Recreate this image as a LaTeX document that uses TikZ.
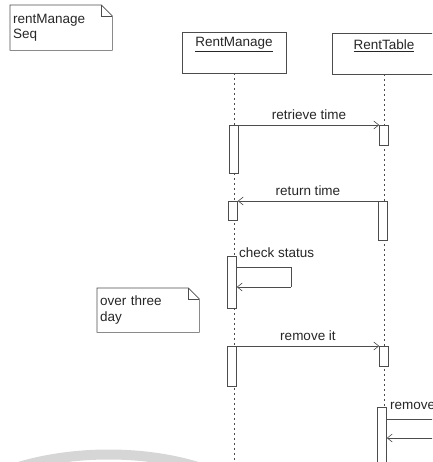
\documentclass[tikz,border=0pt]{standalone}
\usepackage{fontspec}
\setmainfont{Liberation Sans}
\usetikzlibrary{arrows.meta,calc}
\begin{document}
\begin{tikzpicture}[x=1pt,y=-1pt,
 ln/.style={draw=black!70, line width=0.6pt},
 head/.style={ln, fill=white, minimum width=104pt, minimum height=41pt, inner sep=0pt},
 act/.style={ln, fill=white, minimum width=9pt, inner sep=0pt, anchor=north},
 life/.style={draw=black!70, line width=0.7pt, dash pattern=on 2pt off 3pt},
 msg/.style={draw=black!70, line width=0.6pt, -{Straight Barb[length=5pt,width=8pt]}},
 lbl/.style={font=\fontsize{13.5}{15.5}\selectfont, text=black!85, inner sep=1pt},
 notebox/.style={lbl, anchor=north west, align=left, inner xsep=2pt, inner ysep=0pt},
]
\useasboundingbox (0,0) rectangle (432,462);
\clip (0,0) rectangle (432,462);

% faint grey band at the bottom
\draw[line width=10pt, black!16] (-20,482) .. controls (50,447) and (150,447) .. (215,473);

% note 1
\node[notebox, minimum width=102pt, minimum height=45pt, text width=96pt] (seqnote) at (10,5) {rentManage\\Seq};
\draw[ln] (seqnote.north west) -- ($(seqnote.north east)+(-11,0)$) -- ($(seqnote.north east)+(0,11)$) -- (seqnote.south east) -- (seqnote.south west) -- cycle;
\draw[ln] ($(seqnote.north east)+(-11,0)$) -- ($(seqnote.north east)+(-11,11)$) -- ($(seqnote.north east)+(0,11)$);

% lifeline heads
\node[head] (rmhead) at (234,52.5) {};
\node[lbl] (rmname) at ($(rmhead.north)+(0,13)$) {\underline{RentManage}};
\node[head] (rthead) at (384,53.5) {};
\node[lbl] (rtname) at ($(rthead.north)+(0,13)$) {\underline{RentTable}};

% lifelines
\coordinate (rmend) at (234,470);
\coordinate (rtend) at (384,470);
\draw[life] (rmhead.south) -- (rmend);
\draw[life] (rthead.south) -- (rtend);

% activations
\node[act, minimum height=48pt] (rm1) at (234,125) {};
\node[act, minimum height=20pt] (rt1) at (384,125) {};
\node[act, minimum height=39pt] (rt2) at (383,201) {};
\node[act, minimum height=19pt] (rm2) at (233,201) {};
\node[act, minimum height=52pt] (rm3) at (232,256) {};
\node[act, minimum height=40pt] (rm4) at (232,346) {};
\node[act, minimum height=20pt] (rt3) at (384,346) {};
\node[act, minimum height=60pt] (rt4) at (382,407) {};

% messages
\draw[msg] (rm1.north east) -- (rt1.north west) node[lbl, midway, above=4pt] (lretrieve) {retrieve time};
\draw[msg] (rt2.north west) -- (rm2.north east) node[lbl, midway, above=4pt] (lreturn) {return time};

\node[lbl, anchor=west] (lcheck) at ($(rm3.north east)+(1,-3)$) {check status};
\coordinate (lpA) at (291,267);
\coordinate (lpB) at (291,287);
\draw[ln] (rm3.east |- lpA) -- (lpA) -- (lpB);
\draw[msg] (lpB) -- (rm3.east |- lpB);

% note 2
\node[notebox, minimum width=102pt, minimum height=44pt, text width=96pt] (daynote) at (97,288) {over three\\day};
\draw[ln] (daynote.north west) -- ($(daynote.north east)+(-11,0)$) -- ($(daynote.north east)+(0,11)$) -- (daynote.south east) -- (daynote.south west) -- cycle;
\draw[ln] ($(daynote.north east)+(-11,0)$) -- ($(daynote.north east)+(-11,11)$) -- ($(daynote.north east)+(0,11)$);

\draw[msg] (rm4.north east) -- (rt3.north west) node[lbl, midway, above=4pt] (lremove) {remove it};

\node[lbl, anchor=west] (lremoving) at ($(rt4.north east)+(2,-1)$) {remove};
\coordinate (outA) at (445,419);
\coordinate (outB) at (445,438);
\draw[ln] (rt4.east |- outA) -- (outA);
\draw[msg] (outB) -- (rt4.east |- outB);
\end{tikzpicture}
\end{document}
